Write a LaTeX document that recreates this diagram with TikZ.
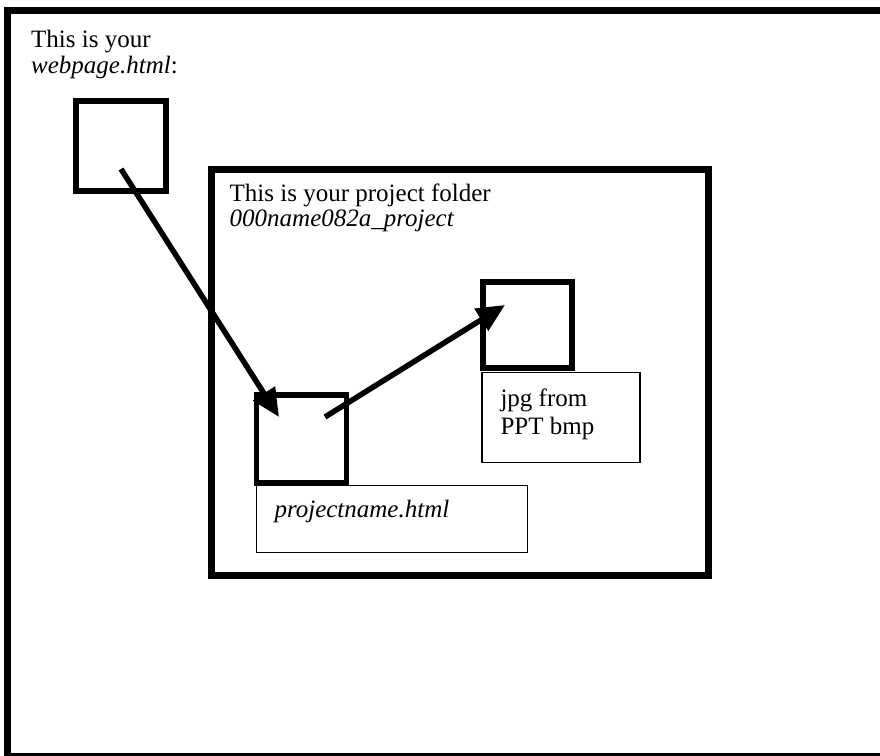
\documentclass[tikz,border=0pt]{standalone}
\usepackage{fontspec}
\setmainfont{Liberation Serif}
\usepackage{tikz}
\usetikzlibrary{arrows.meta, positioning, calc}

\begin{document}
\begin{tikzpicture}[
        x=1pt, y=-1pt,
        frame/.style={draw, line width=7pt},
        filebox/.style={rectangle, draw, line width=5.7pt, inner sep=0pt},
        labelbox/.style={rectangle, draw, line width=1.4pt, inner sep=0pt},
        caption/.style={anchor=base west, inner sep=0pt, align=left},
        link/.style={line width=5.5pt, -{Triangle[length=28pt, width=25pt]}}
    ]
        \useasboundingbox (0,0) rectangle (880,755);
        \clip (0,0) rectangle (880,755);

        % Outer page frame
        \draw[frame] (7.5,10.5) rectangle (895,756.5);
        \node[caption, font=\fontsize{25}{26}\selectfont] (pagetext) at (31,73)
            {This is your\\\textit{webpage.html}:};

        % Project folder
        \node[rectangle, frame, inner sep=0pt, minimum width=497.5pt, minimum height=406.5pt]
            (folder) at (459.75,372.25) {};
        \node[caption, font=\fontsize{25}{25}\selectfont] (foldertext)
            at ($(folder.north west)+(22,61)$)
            {This is your project folder\\\textit{000name082a\_project}};

        % Files
        \node[filebox, minimum width=90pt, minimum height=90pt] (webbox) at (120.7,146) {};
        \node[filebox, minimum width=90pt, minimum height=88pt] (projbox) at (301.6,438.8) {};
        \node[filebox, minimum width=89pt, minimum height=86pt] (jpgbox) at (527.5,324.8) {};

        % File labels
        \node[labelbox, minimum width=271pt, minimum height=67pt] (projlabel) at (392,519) {};
        \node[caption, font=\fontsize{25}{25}\selectfont] (projtext)
            at ($(projlabel.north west)+(18.5,32.5)$) {\textit{projectname.html}};
        \node[labelbox, minimum width=158pt, minimum height=90pt] (jpglabel) at (561,417.5) {};
        \node[caption, font=\fontsize{25}{28}\selectfont] (jpgtext)
            at ($(jpglabel.north west)+(19,62.5)$) {jpg from\\PPT bmp};

        % Links
        \coordinate (webout) at ($(webbox.center)+(0.3,23)$);
        \coordinate (projin) at ($(projbox.center)+(-22.6,-21.8)$);
        \coordinate (projout) at ($(projbox.center)+(23.4,-21.8)$);
        \coordinate (jpgin) at ($(jpgbox.center)+(-22.5,-19.8)$);
        \draw[link] (webout) -- (projin);
        \draw[link] (projout) -- (jpgin);

    \end{tikzpicture}
\end{document}
